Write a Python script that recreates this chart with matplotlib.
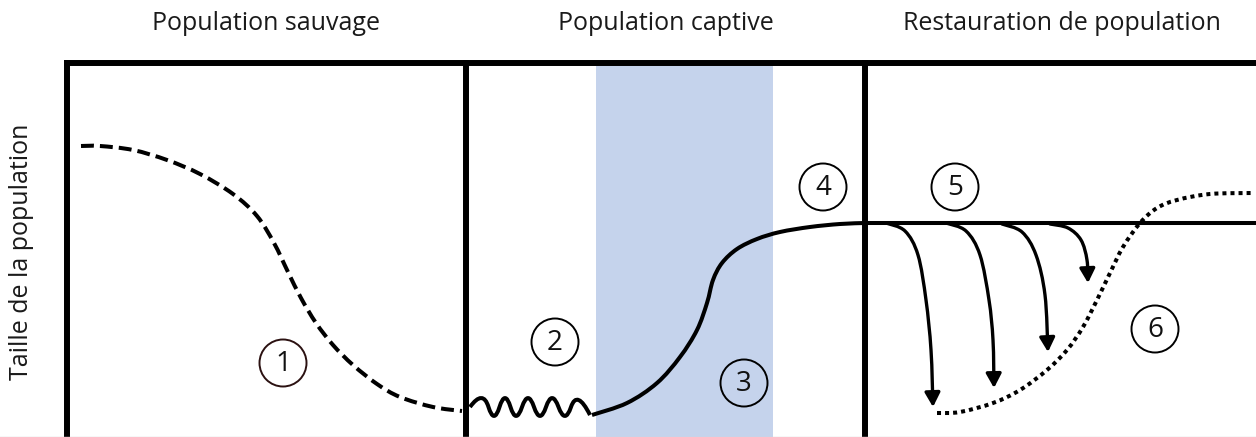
import matplotlib.pyplot as plt
import numpy as np
from matplotlib.path import Path
from matplotlib.patches import PathPatch, Circle, FancyArrowPatch

plt.rcParams['font.family'] = ['Open Sans', 'DejaVu Sans']

# section titles and their centres (pixel space)
titles = ['Population sauvage', 'Population captive', 'Restauration de population']
title_x = [266, 666, 1062]
ylabel = 'Taille de la population'

# 1: wild decline (dashed)
wild_x = [81, 100, 133, 167, 200, 233, 257, 274, 288, 301, 316, 333, 353, 377, 400, 433, 462]
wild_y = [146, 146, 150, 160, 174, 194, 216, 243, 272, 298, 323, 345, 365, 384, 397, 407, 411]

# 2: wiggle in captivity (quadratic spline control points)
wig_x = [470, 483, 494, 505, 516, 528, 540, 552, 565, 577, 590]
wig_y = [407, 389, 425, 389, 425, 389, 425, 389, 425, 389, 415]

# 3-4: captive growth
cap_x = [592, 627, 657, 680, 697, 707, 713, 722, 737, 757, 780, 810, 840, 865]
cap_y = [415, 403, 383, 357, 330, 303, 280, 263, 249, 239, 232, 227, 224, 223]
line_x = [865, 1254]
line_y = [223, 223]

# 5: releases (arrows)
arrows = [
    ([886, 905, 918, 926, 931, 933], [223, 231, 255, 300, 350, 407]),
    ([946, 966, 980, 989, 993, 994], [223, 231, 255, 300, 340, 388]),
    ([1002, 1022, 1036, 1045, 1048], [224, 232, 255, 295, 352]),
    ([1050, 1068, 1081, 1087, 1088], [224, 228, 240, 260, 283]),
]

# 6: restored population (dotted)
rest_x = [937, 960, 993, 1020, 1047, 1067, 1083, 1097, 1110, 1123, 1140, 1157, 1177, 1210, 1253]
rest_y = [413, 412, 403, 390, 370, 350, 327, 300, 273, 247, 223, 208, 200, 194, 193]

labels = ['1', '2', '3', '4', '5', '6']
lab_x = [283, 555, 744, 823, 955, 1155]
lab_y = [363, 342, 383, 187, 187, 329]
lab_ec = ['#2b1111', 'black', 'black', 'black', 'black', 'black']


def smooth_path(xs, ys):
    # Catmull-Rom through the read points, handed to matplotlib as cubic Beziers
    p = np.column_stack([xs, ys]).astype(float)
    ext = np.vstack([p[0], p, p[-1]])
    verts = [p[0]]
    codes = [Path.MOVETO]
    for i in range(1, len(ext) - 2):
        c1 = ext[i] + (ext[i + 1] - ext[i - 1]) / 6
        c2 = ext[i + 1] - (ext[i + 2] - ext[i]) / 6
        verts += [c1, c2, ext[i + 1]]
        codes += [Path.CURVE4] * 3
    return Path(verts, codes)


fig = plt.figure(figsize=(12.56, 4.37), dpi=100)
ax = fig.add_axes([0, 0, 1, 1])
ax.set_xlim(0, 1256)
ax.set_ylim(437, 0)
ax.axis('off')

# shaded captive breeding band
ax.axvspan(596, 773, ymin=0, ymax=(437 - 66) / 437, color='#c5d3ec', lw=0)

# frame
ax.plot([67, 67], [437, 63], color='black', lw=4.3, solid_capstyle='projecting')
ax.plot([67, 1256], [63, 63], color='black', lw=4.3, solid_capstyle='projecting')
ax.plot([466, 466], [437, 63], color='black', lw=4.3)
ax.plot([865, 865], [437, 63], color='black', lw=4.3)
ax.plot([0, 1256], [436.5, 436.5], color='#d8d8d8', lw=1)

for t, x in zip(titles, title_x):
    ax.text(x, 24, t, ha='center', va='center', fontsize=18, color='#1a1a1a')
ax.text(22, 252, ylabel, ha='center', va='center', rotation=90, fontsize=18, color='#1a1a1a')

ax.add_patch(PathPatch(smooth_path(wild_x, wild_y), fill=False, lw=2.9, ec='black',
                       ls=(0, (3.2, 1.5))))

codes = [Path.MOVETO]
verts = [(wig_x[0], wig_y[0])]
for i in range(1, len(wig_x) - 1):
    nx = wig_x[i + 1] if i + 1 == len(wig_x) - 1 else (wig_x[i] + wig_x[i + 1]) / 2
    ny = wig_y[i + 1] if i + 1 == len(wig_x) - 1 else (wig_y[i] + wig_y[i + 1]) / 2
    verts += [(wig_x[i], wig_y[i]), (nx, ny)]
    codes += [Path.CURVE3, Path.CURVE3]
ax.add_patch(PathPatch(Path(verts, codes), fill=False, lw=2.9, ec='black', joinstyle='round'))

ax.add_patch(PathPatch(smooth_path(cap_x, cap_y), fill=False, lw=2.9, ec='black'))
ax.plot(line_x, line_y, color='black', lw=2.9)

for xs, ys in arrows:
    ax.add_patch(FancyArrowPatch(path=smooth_path(xs, ys), color='black', lw=2.4,
                                 arrowstyle='-|>,head_length=8.5,head_width=4.6',
                                 shrinkA=0, shrinkB=0))

ax.add_patch(PathPatch(smooth_path(rest_x, rest_y), fill=False, lw=2.9, ec='black',
                       ls=(0, (1, 1))))

for t, x, y, ec in zip(labels, lab_x, lab_y, lab_ec):
    ax.add_patch(Circle((x, y), 23.5, fill=False, ec=ec, lw=1.4))
    ax.text(x, y + 1, t, ha='center', va='center', fontsize=20, color='#111111')

fig.savefig('out.png', dpi=100)
